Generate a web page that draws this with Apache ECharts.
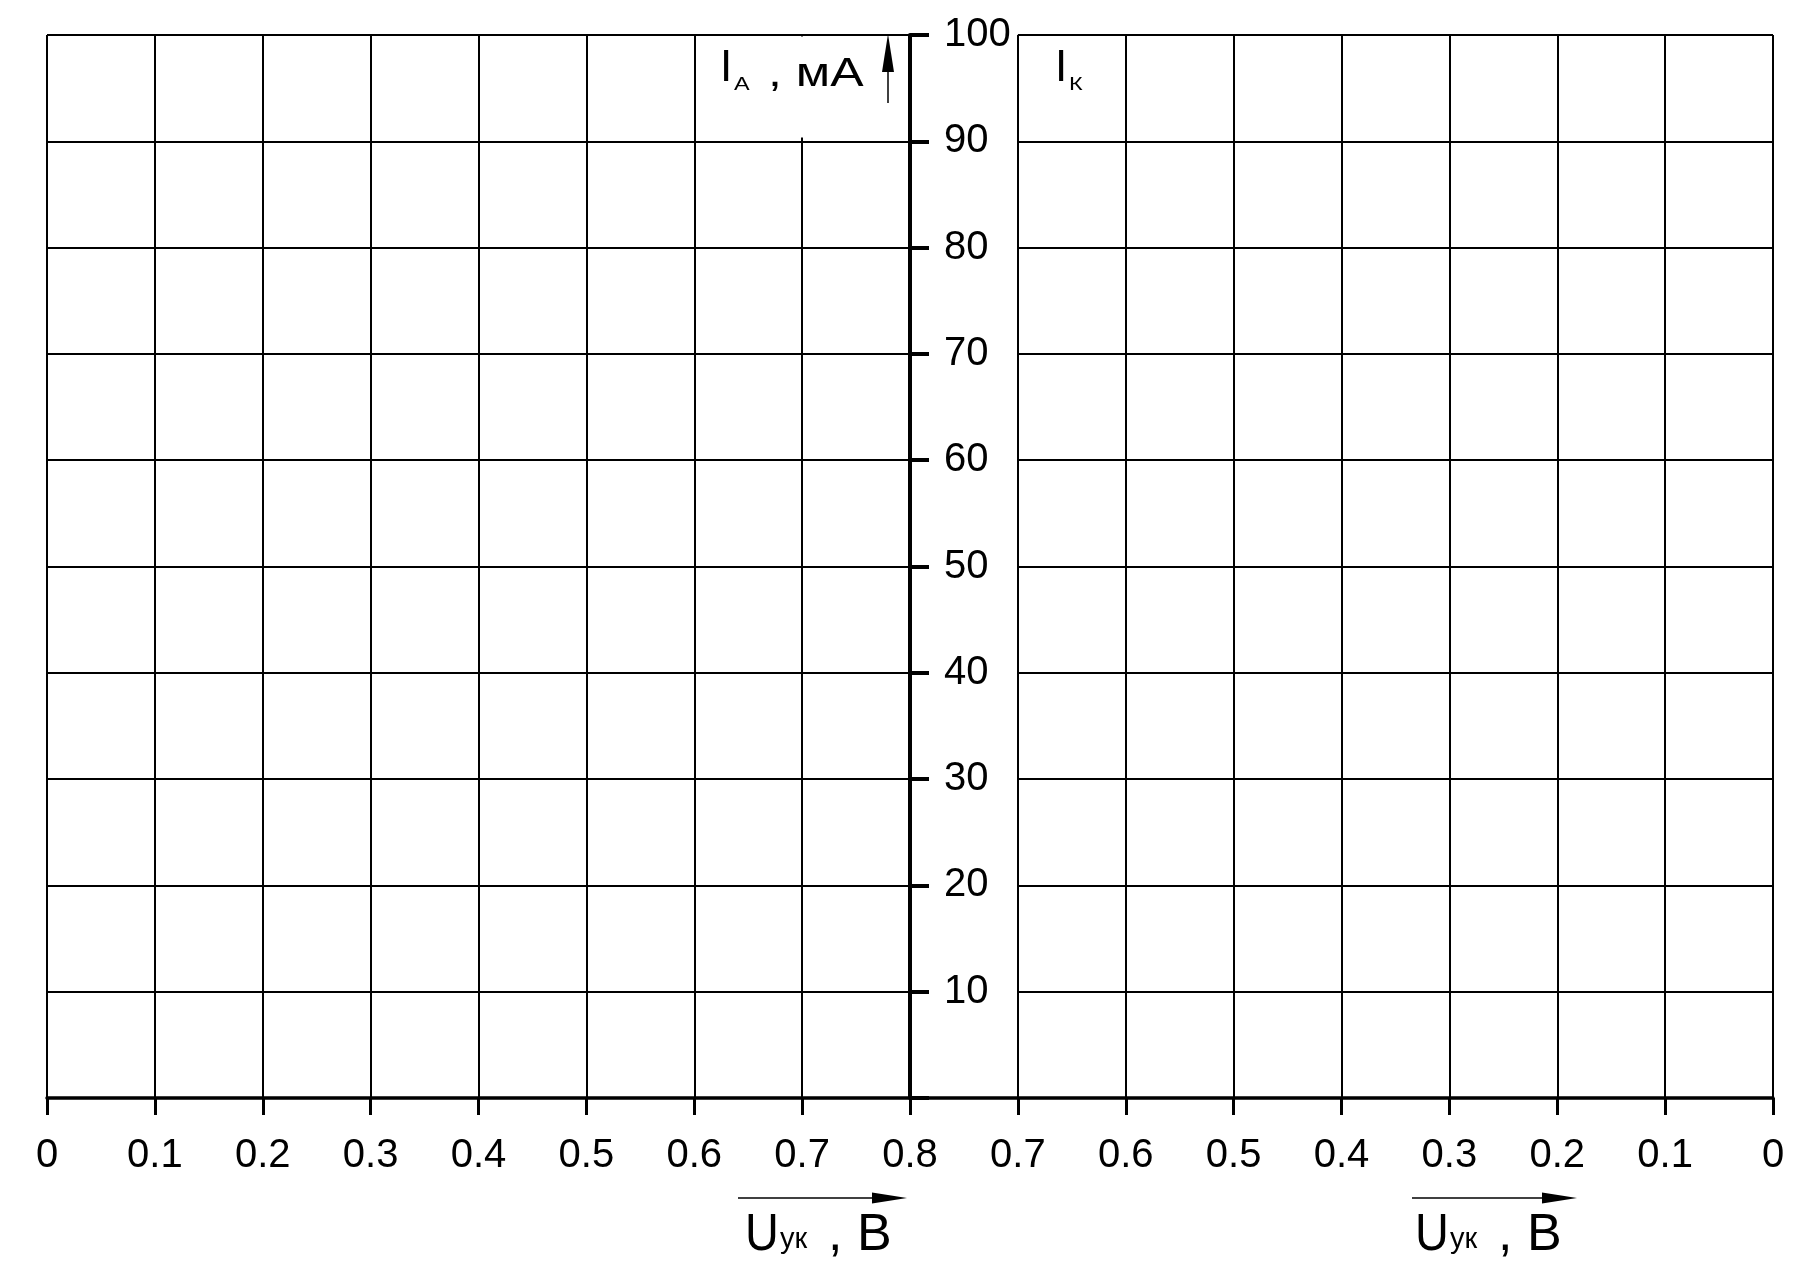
<!DOCTYPE html>
<html><head><meta charset="utf-8">
<script src="https://cdn.jsdelivr.net/npm/echarts@6/dist/echarts.min.js"></script>
<style>html,body{margin:0;padding:0;background:#fff}#c{width:1806px;height:1275px}</style>
</head><body><div id="c"></div>
<script>
// ---- data (tick labels / axis ranges) ----
const leftTickLabels  = ['0','0.1','0.2','0.3','0.4','0.5','0.6','0.7','0.8'];
const rightTickLabels = ['0.8','0.7','0.6','0.5','0.4','0.3','0.2','0.1','0'];
const currentMin = 0, currentMax = 100, currentStep = 10;
const yTitleMain = 'I', yTitleSub = 'A', yTitleUnit = ', мА';
const rightTitleMain = 'I', rightTitleSub = 'К';
const xTitleMain = 'U', xTitleSub = 'ук', xTitleUnit = ', В';

// ---- layout ----
const FONT = "'Liberation Sans', Arial, Helvetica, sans-serif";
const L = 47, C = 910, R = 1773, T = 35, B = 1098;
const H = B - T;
const rightW = R - C;
const colW = rightW / (rightTickLabels.length - 1);

const chart = echarts.init(document.getElementById('c'), null, {renderer: 'canvas'});

const axisLineStyle = {color: '#000', width: 3.5};
const splitStyle = {show: true, lineStyle: {color: '#000', width: 2}};
const xLabel = {interval: 0, fontSize: 40, color: '#000', fontFamily: FONT, margin: 38};
const xTick = {show: true, length: 17, lineStyle: {color: '#000', width: 3}};

function txt(text, x, y, size, sx) {
  return {type: 'text', z: 110, x: x, y: y, scaleX: sx || 1,
    style: {text: text, x: 0, y: 0, fill: '#000',
    font: size + 'px ' + FONT, align: 'left', verticalAlign: 'middle'}};
}

const option = {
  backgroundColor: '#fff',
  animation: false,
  grid: [
    {left: L, top: T, width: C - L, height: H, containLabel: false, outerBoundsMode: 'none'},
    {left: C, top: T, width: rightW, height: H, containLabel: false, outerBoundsMode: 'none'},
    {left: C + colW, top: T, width: rightW - colW, height: H, containLabel: false, outerBoundsMode: 'none'}
  ],
  xAxis: [
    {gridIndex: 0, type: 'category', data: leftTickLabels, boundaryGap: false,
     axisLine: {show: true, lineStyle: axisLineStyle}, axisTick: xTick,
     axisLabel: xLabel, splitLine: splitStyle},
    {gridIndex: 1, type: 'category', data: rightTickLabels, boundaryGap: false,
     axisLine: {show: true, lineStyle: axisLineStyle}, axisTick: xTick,
     axisLabel: Object.assign({}, xLabel, {formatter: (v, i) => i === 0 ? '' : v}),
     splitLine: splitStyle},
    {gridIndex: 2, type: 'value', min: 0, max: 1, show: false}
  ],
  yAxis: [
    {gridIndex: 0, type: 'value', min: currentMin, max: currentMax, interval: currentStep,
     position: 'right',
     axisLine: {show: true, onZero: false, lineStyle: {color: '#000', width: 4}},
     axisTick: {show: true, length: 19, lineStyle: {color: '#000', width: 4}},
     axisLabel: {fontSize: 40, color: '#000', fontFamily: FONT, margin: 34, padding: [4, 0, 0, 0],
                 formatter: v => v === currentMin ? '' : String(v)},
     splitLine: splitStyle},
    {gridIndex: 1, type: 'value', min: currentMin, max: currentMax, interval: currentStep, show: false},
    {gridIndex: 2, type: 'value', min: currentMin, max: currentMax, interval: currentStep,
     axisLine: {show: false}, axisTick: {show: false}, axisLabel: {show: false},
     splitLine: splitStyle}
  ],
  series: [],
  graphic: [
    // white box behind the current axis title
    {type: 'rect', z: 100, shape: {x: 760, y: 36.5, width: 146, height: 101}, style: {fill: '#fff'}},
    txt(yTitleMain, 720, 69, 44),
    txt(yTitleSub, 734, 85, 18, 1.3),
    txt(yTitleUnit, 768, 75, 40, 1.25),
    {type: 'line', z: 110, shape: {x1: 888, y1: 103, x2: 888, y2: 60}, style: {stroke: '#000', lineWidth: 1.5}},
    {type: 'polygon', z: 110, shape: {points: [[888, 34], [882, 72], [894, 72]]}, style: {fill: '#000'}},
    txt(rightTitleMain, 1055, 69, 44),
    txt(rightTitleSub, 1069, 85, 18, 1.3),
    // bottom-left voltage label
    {type: 'line', z: 110, shape: {x1: 738, y1: 1198, x2: 880, y2: 1198}, style: {stroke: '#000', lineWidth: 1.5}},
    {type: 'polygon', z: 110, shape: {points: [[907, 1198], [872, 1192.5], [872, 1203.5]]}, style: {fill: '#000'}},
    txt(xTitleMain, 745, 1236, 52, 0.9),
    txt(xTitleSub, 780, 1240, 29),
    txt(xTitleUnit, 828, 1236, 52),
    // bottom-right voltage label
    {type: 'line', z: 110, shape: {x1: 1412, y1: 1198, x2: 1550, y2: 1198}, style: {stroke: '#000', lineWidth: 1.5}},
    {type: 'polygon', z: 110, shape: {points: [[1577, 1198], [1542, 1192.5], [1542, 1203.5]]}, style: {fill: '#000'}},
    txt(xTitleMain, 1415, 1236, 52, 0.9),
    txt(xTitleSub, 1450, 1240, 29),
    txt(xTitleUnit, 1498, 1236, 52)
  ]
};
chart.setOption(option);
</script>
</body></html>
